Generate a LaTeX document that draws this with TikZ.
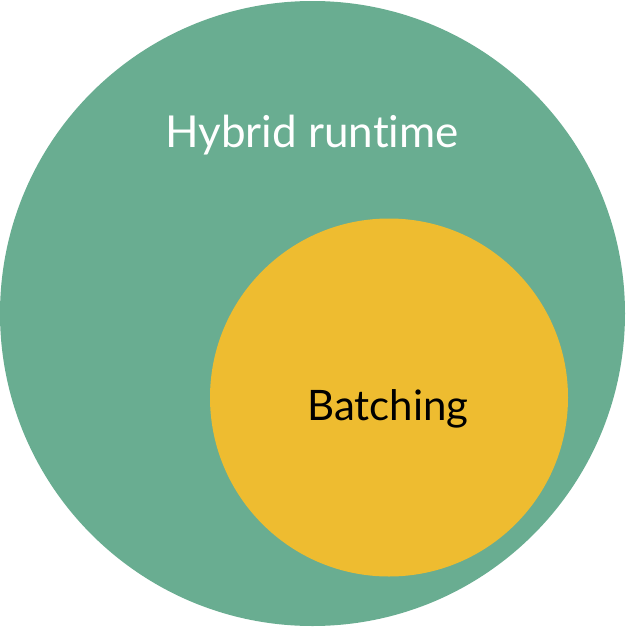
\documentclass[tikz,border=0pt]{standalone}
\usepackage{fontspec}
\setmainfont[Ligatures=NoCommon]{Lato}
\definecolor{outergreen}{HTML}{69AD91}
\definecolor{inneryellow}{HTML}{EEBC30}
\begin{document}
\begin{tikzpicture}[x=1pt,y=-1pt,
  lbl/.style={inner sep=0pt,anchor=base}]
\useasboundingbox (0,0) rectangle (625,627);
\fill[outergreen] (312.5,313.5) circle[radius=312.5];
\fill[inneryellow] (389,397.5) circle[radius=179];
\node[lbl,text=white,font=\fontsize{44}{48}\selectfont] (outer) at (312,147) {Hybrid runtime};
\node[lbl,text=black,font=\fontsize{42}{46}\selectfont] (inner) at (388,420) {Batching};
\end{tikzpicture}
\end{document}
